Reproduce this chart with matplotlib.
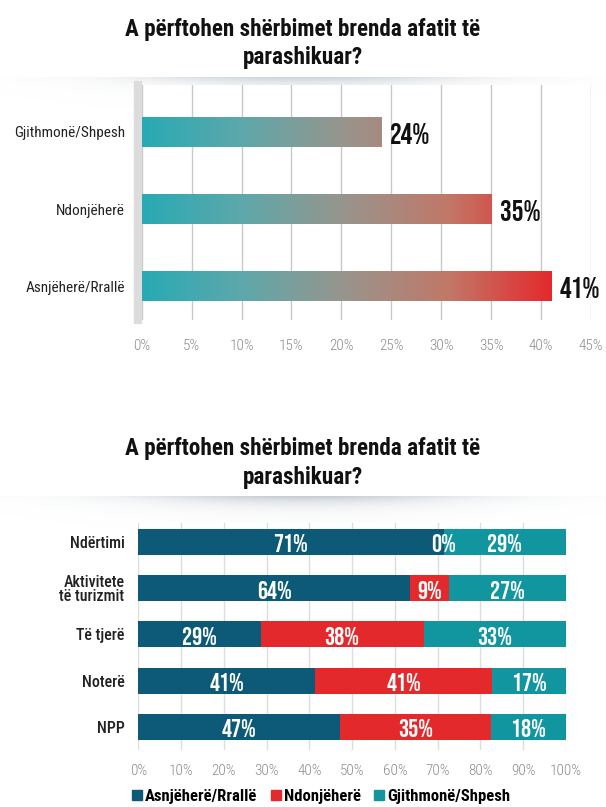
import numpy as np
import matplotlib
matplotlib.use("Agg")
import matplotlib.pyplot as plt
from matplotlib.colors import LinearSegmentedColormap
from matplotlib.patches import Patch

TITLE = "A përftohen shërbimet brenda afatit të\nparashikuar?"

# top chart
top_cats = ["Gjithmonë/Shpesh", "Ndonjëherë", "Asnjëherë/Rrallë"]
top_vals = [24, 35, 41]
top_ticks = list(range(0, 50, 5))

# bottom chart
bot_cats = ["Ndërtimi", "Aktivitete\ntë turizmit", "Të tjerë", "Noterë", "NPP"]
bot_series = ["Asnjëherë/Rrallë", "Ndonjëherë", "Gjithmonë/Shpesh"]
rralle = [71.4, 63.6, 28.6, 41.4, 47.1]
ndonjehere = [0.0, 9.1, 38.1, 41.4, 35.3]
shpesh = [28.6, 27.3, 33.3, 17.2, 17.6]
bot_ticks = list(range(0, 110, 10))

COL_DARK = "#0c5a77"
COL_RED = "#e4292c"
COL_TEAL = "#11959f"
GRID = "#c8c8c8"
TICK = "#8c8c8c"

FONT = ["Roboto Condensed", "DejaVu Sans"]
NUM_FONT = ["Bebas Neue", "Roboto Condensed", "DejaVu Sans"]
plt.rcParams["font.family"] = FONT

grad_cmap = LinearSegmentedColormap.from_list(
    "tr", ["#28aab4", "#5fa8aa", "#9a948c", "#c17868", "#e4292c"])


def title_shadow(fig, y_center):
    ax = fig.add_axes([0.0, y_center - 0.02, 1.0, 0.04])
    xx = np.linspace(-1, 1, 300)
    yy = np.linspace(0, 1, 40)
    X, Y = np.meshgrid(xx, yy)
    z = np.exp(-(X / 0.55) ** 2) * np.exp(-Y * 4)
    ax.imshow(z, cmap=LinearSegmentedColormap.from_list("s", ["#ffffff", "#b9c3cc"]),
              aspect="auto", extent=[0, 1, 0, 1], vmin=0, vmax=1.2)
    ax.set_axis_off()


def gradient_bars(ax, cats, vals):
    ys = np.arange(len(cats))
    bars = ax.barh(ys, vals, height=0.4, color="none", edgecolor="none", zorder=3)
    grad = np.linspace(0, 1, 256).reshape(1, -1)
    for b in bars:
        im = ax.imshow(grad, cmap=grad_cmap, aspect="auto",
                       extent=[0, max(vals), b.get_y() + b.get_height(), b.get_y()],
                       zorder=3)
        im.set_clip_path(b)
    for y, v in zip(ys, vals):
        ax.text(v + 0.9, y + 0.02, f"{v:.0f}%", va="center", ha="left",
                fontsize=21, family=NUM_FONT, color="#111111", zorder=4)


fig = plt.figure(figsize=(6.06, 8.07), dpi=100)

# ---------- top chart ----------
fig.text(0.5, 0.946, TITLE, ha="center", va="center", fontsize=16.7,
         fontweight="bold", color="#111111", linespacing=1.3)
title_shadow(fig, 0.885)

ax1 = fig.add_axes([0.2338, 0.6035, 0.7414, 0.2912])
gradient_bars(ax1, top_cats, top_vals)
ax1.set_xlim(0, 45)
ax1.set_ylim(2.44, -0.61)
ax1.set_yticks(range(len(top_cats)))
ax1.set_yticklabels(top_cats, fontsize=11, color="#222222")
ax1.set_xticks(top_ticks)
ax1.set_xticklabels([f"{t}%" for t in top_ticks], fontsize=11, color=TICK,
                    fontweight="light")
ax1.grid(axis="x", color=GRID, lw=1.0, zorder=0)
ax1.set_axisbelow(True)
for s in ax1.spines.values():
    s.set_visible(False)
ax1.tick_params(length=0)
ax1.tick_params(axis="x", pad=14)
ax1.tick_params(axis="y", pad=12)
ax1.axvline(-0.35, color="#dcdcdc", lw=6, zorder=1, clip_on=False)

# ---------- bottom chart ----------
fig.text(0.5, 0.4263, TITLE, ha="center", va="center", fontsize=16.7,
         fontweight="bold", color="#111111", linespacing=1.3)
title_shadow(fig, 0.365)

ax2 = fig.add_axes([0.2282, 0.0706, 0.7058, 0.2813])
ys = np.arange(len(bot_cats))
left = np.zeros(len(bot_cats))
for vals, col in zip([rralle, ndonjehere, shpesh], [COL_DARK, COL_RED, COL_TEAL]):
    vals = np.array(vals)
    ax2.barh(ys, vals, left=left, height=0.56, color=col, zorder=3)
    for y, l, v in zip(ys, left, vals):
        ax2.text(l + v / 2, y + 0.03, f"{v:.0f}%", ha="center", va="center",
                 fontsize=18, family=NUM_FONT, color="white", zorder=4)
    left = left + vals

ax2.set_xlim(0, 100)
ax2.set_ylim(4.5, -0.41)
ax2.set_yticks(ys)
ax2.set_yticklabels(bot_cats, fontsize=11.5, color="#222222", linespacing=0.95,
                    fontweight="medium")
ax2.set_xticks(bot_ticks)
ax2.set_xticklabels([f"{t}%" for t in bot_ticks], fontsize=11, color=TICK,
                    fontweight="light")
ax2.grid(axis="x", color="#dddddd", lw=1.0, zorder=0)
ax2.set_axisbelow(True)
for s in ax2.spines.values():
    s.set_visible(False)
ax2.tick_params(length=0)
ax2.tick_params(axis="x", pad=10)
ax2.tick_params(axis="y", pad=10)

handles = [Patch(color=c) for c in [COL_DARK, COL_RED, COL_TEAL]]
fig.legend(handles, bot_series, loc="center", bbox_to_anchor=(0.53, 0.013),
           ncol=3, frameon=False, handlelength=0.6, handleheight=0.6,
           handletextpad=0.2, columnspacing=0.8,
           prop={"family": FONT, "weight": "bold", "size": 12})

fig.savefig("out.png", dpi=100, facecolor="white")
